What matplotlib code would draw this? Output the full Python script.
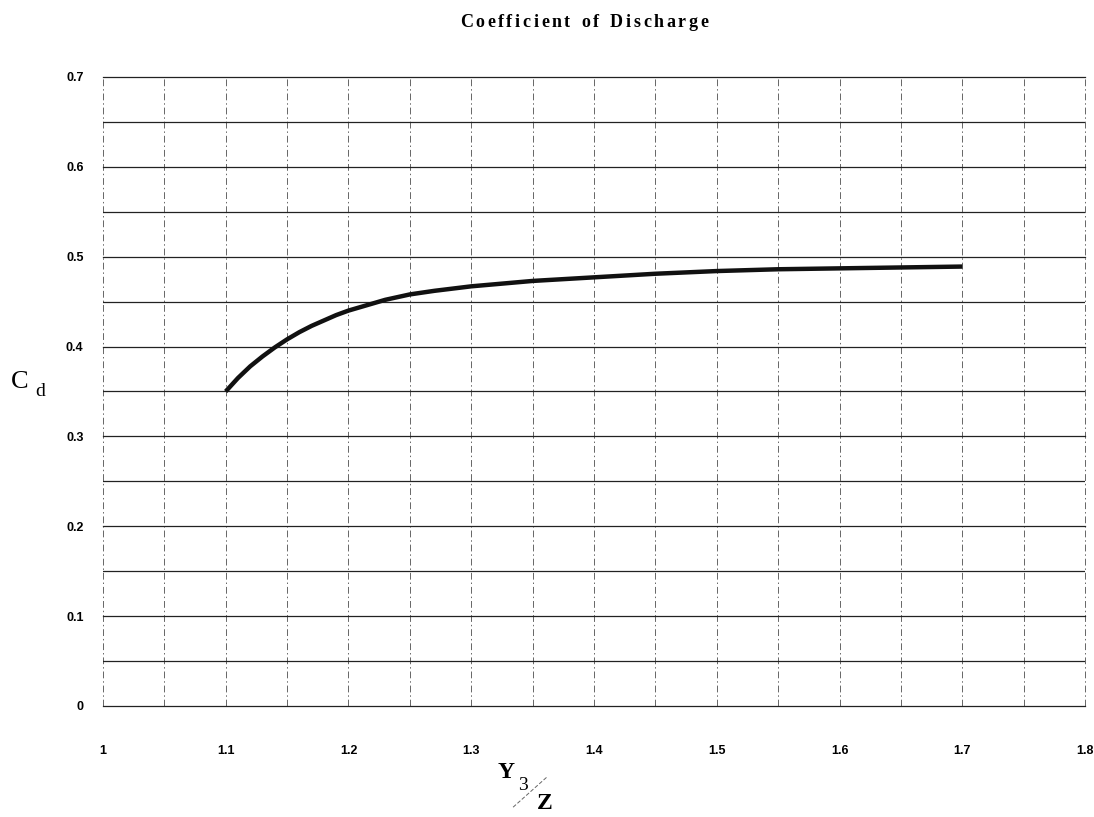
import numpy as np
import matplotlib
matplotlib.use('Agg')
import matplotlib.pyplot as plt
from matplotlib.lines import Line2D

# Values
y3_over_z = [1.10, 1.11, 1.12, 1.13, 1.14, 1.15, 1.16, 1.17, 1.18, 1.19, 1.20, 1.21, 1.22, 1.23,
             1.24, 1.25, 1.27, 1.30, 1.35, 1.40, 1.45, 1.50, 1.55, 1.60, 1.65, 1.70]
cd = [0.350, 0.365, 0.378, 0.389, 0.399, 0.408, 0.416, 0.423, 0.429, 0.435, 0.440, 0.444, 0.448, 0.452,
      0.455, 0.458, 0.462, 0.467, 0.473, 0.477, 0.481, 0.484, 0.486, 0.487, 0.488, 0.489]

x_major = [1.0, 1.1, 1.2, 1.3, 1.4, 1.5, 1.6, 1.7, 1.8]
x_labels = ['1', '1.1', '1.2', '1.3', '1.4', '1.5', '1.6', '1.7', '1.8']
x_minor = [1.05, 1.15, 1.25, 1.35, 1.45, 1.55, 1.65, 1.75]
y_major = [0.0, 0.1, 0.2, 0.3, 0.4, 0.5, 0.6, 0.7]
y_labels = ['0', '0.1', '0.2', '0.3', '0.4', '0.5', '0.6', '0.7']
y_minor = [0.05, 0.15, 0.25, 0.35, 0.45, 0.55, 0.65]

title = 'Coefficient of Discharge'

fig = plt.figure(figsize=(10.94, 8.17), dpi=100)
ax = fig.add_axes([0.0941, 0.1359, 0.8977, 0.7699])

ax.set_xlim(1.0, 1.8)
ax.set_ylim(0.0, 0.7)

ax.set_xticks(x_major)
ax.set_xticklabels(x_labels)
ax.set_xticks(x_minor, minor=True)
ax.set_yticks(y_major)
ax.set_yticklabels(y_labels)
ax.set_yticks(y_minor, minor=True)

# horizontal grid solid, vertical grid dash-dot
ax.grid(axis='y', which='both', color='#222222', linestyle='-', linewidth=0.9)
ax.grid(axis='x', which='both', color='#666666', linestyle=(0, (7, 3, 1.5, 3)), linewidth=0.7)
ax.set_axisbelow(True)
for gl in ax.get_xgridlines() + ax.get_ygridlines():
    gl.set_clip_on(False)

for s in ax.spines.values():
    s.set_visible(False)

ax.tick_params(which='both', length=0)
ax.tick_params(axis='x', pad=28)
ax.tick_params(axis='y', pad=14)
for lab in ax.get_xticklabels() + ax.get_yticklabels():
    lab.set_fontfamily('Liberation Sans')
    lab.set_fontweight('bold')
    lab.set_fontsize(9)

ax.plot(y3_over_z, cd, color='#111111', linewidth=3.2, solid_joinstyle='round',
        solid_capstyle='butt')

# title drawn letter by letter to get the wide tracking of the original
renderer = fig.canvas.get_renderer()
fig_w = fig.get_figwidth() * fig.dpi
x_px = 460
for ch in title:
    t = fig.text(x_px / fig_w, 0.972, ch, ha='left', va='center',
                 fontfamily='Liberation Serif', fontweight='bold', fontsize=13)
    if ch == ' ':
        w = 6
    else:
        w = t.get_window_extent(renderer).width
    x_px += w + 2.6

# y label C_d
fig.text(0.010, 0.532, 'C', ha='left', va='center', fontfamily='Liberation Serif', fontsize=19)
fig.text(0.032, 0.521, 'd', ha='left', va='center', fontfamily='Liberation Serif', fontsize=14)

# x label Y3 / Z
fig.text(0.455, 0.055, 'Y', ha='left', va='center', fontfamily='Liberation Serif',
         fontweight='bold', fontsize=17)
fig.text(0.474, 0.038, '3', ha='left', va='center', fontfamily='Liberation Serif', fontsize=14)
fig.add_artist(Line2D([0.469, 0.500], [0.012, 0.049], transform=fig.transFigure,
                      color='#666666', linewidth=0.7, linestyle=(0, (4, 2))))
fig.text(0.491, 0.017, 'Z', ha='left', va='center', fontfamily='Liberation Serif',
         fontweight='bold', fontsize=17)

fig.savefig('out.png', dpi=100)
